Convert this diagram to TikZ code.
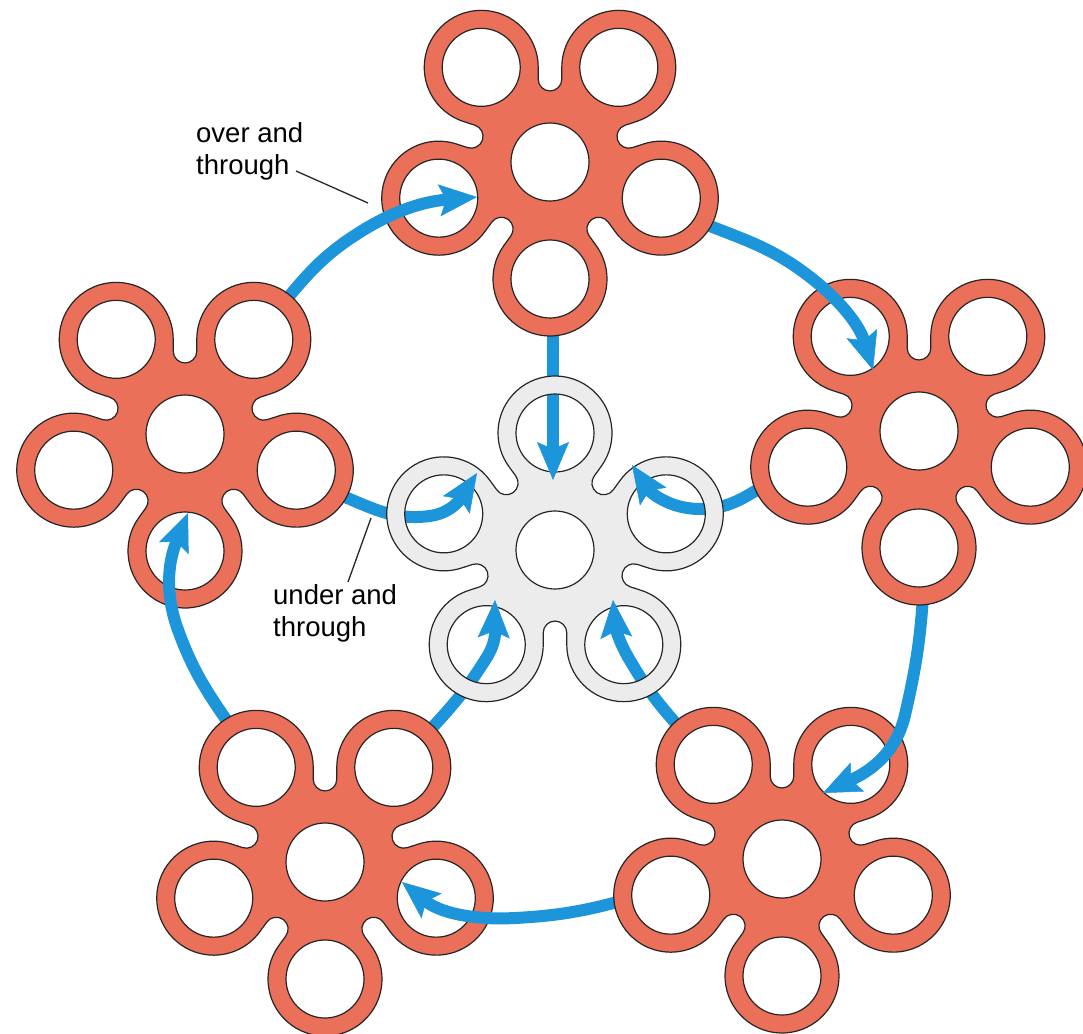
\documentclass[tikz,border=0pt]{standalone}
\usepackage{fontspec}
\setmainfont{Liberation Sans}
\usetikzlibrary{arrows.meta,calc}
\definecolor{petalred}{RGB}{234,112,90}
\definecolor{hubgray}{RGB}{236,236,236}
\definecolor{flowblue}{RGB}{28,149,218}

\tikzset{
  pics/flower/.style 2 args={code={
    \filldraw[fill=#2, draw=black!85, line width=1.2pt, even odd rule]
      ($({#1}:117)+({#1-126}:57)$)
      \foreach \k in {0,...,4}{
        arc[start angle={#1+72*\k-126}, delta angle=252, radius=57]
        -- ++({#1+72*\k+216}:11.85)
        arc[start angle={#1+72*\k-54}, delta angle=-180, radius=11.77]
        -- ++({#1+72*\k+36}:11.85)
      } -- cycle
      (0,0) circle[radius=39]
      \foreach \k in {0,...,4}{ ({#1+72*\k}:117) circle[radius=39] };
  }}
}

\begin{document}
\begin{tikzpicture}[x=1pt, y=1pt,
    flow/.style={draw=flowblue, line width=12pt, shorten >=-1pt},
    flowhead/.style={draw=flowblue, line width=12pt, -{Stealth[length=38pt, width=32pt, inset=7pt, line width=0.5pt]}},
    leader/.style={draw=black!85, line width=1.3pt},
    tagtext/.style={font=\fontsize{27.5}{32}\selectfont, align=left, inner sep=0pt, anchor=north west}
  ]
  \useasboundingbox (0,0) rectangle (1083,-1033);
  \fill[white] (0,0) rectangle (1083,-1033);

  % flower centres
  \coordinate (ftop)  at (550,-162);
  \coordinate (fright) at (919,-431);
  \coordinate (fbotr) at (782,-859);
  \coordinate (fbotl) at (325,-862);
  \coordinate (fleft) at (185,-434);
  \coordinate (fmid)  at (555,-550);

  % arrow ends and joints
  \coordinate (a1s) at (282,-305); \coordinate (a1j) at (365,-229); \coordinate (a1e) at (477,-197);
  \coordinate (a2s) at (700,-222); \coordinate (a2j) at (810,-277); \coordinate (a2e) at (873,-370);
  \coordinate (a3s) at (923,-597); \coordinate (a3j) at (905,-715); \coordinate (a3e) at (823,-793);
  \coordinate (a4s) at (625,-900); \coordinate (a4j) at (515,-918); \coordinate (a4e) at (402,-882);
  \coordinate (a5s) at (232,-728); \coordinate (a5j) at (178,-630); \coordinate (a5e) at (188,-513);
  \coordinate (c1s) at (553,-322); \coordinate (c1j) at (553,-435); \coordinate (c1e) at (553,-480);
  \coordinate (c2s) at (760,-488); \coordinate (c2j) at (700,-509); \coordinate (c2e) at (632,-465);
  \coordinate (c3s) at (680,-728); \coordinate (c3j) at (628,-657); \coordinate (c3e) at (613,-600);
  \coordinate (c4s) at (430,-730); \coordinate (c4j) at (487,-657); \coordinate (c4e) at (495,-600);
  \coordinate (c5s) at (340,-495); \coordinate (c5j) at (430,-516); \coordinate (c5e) at (477,-473);

  % tails, under the rings
  \draw[flow] (a1s) to[out=51, in=211] (a1j);
  \draw[flow] (a2s) to[out=-22, in=142] (a2j);
  \draw[flow] (a3s) to[out=266, in=77] (a3j);
  \draw[flow] (a4s) to[out=195, in=3] (a4j);
  \draw[flow] (a5s) to[out=125, in=290] (a5j);
  \draw[flow] (c1s) -- (c1j);
  \draw[flow] (c2s) to[out=212, in=0] (c2j);
  \draw[flow] (c3s) to[out=132, in=300] (c3j);
  \draw[flow] (c4s) to[out=47, in=238] (c4j);
  \draw[flow] (c5s) to[out=-22, in=188] (c5j);

  % flowers
  \pic at (ftop)   {flower={-90}{petalred}};
  \pic at (fright) {flower={-90}{petalred}};
  \pic at (fbotr)  {flower={-90}{petalred}};
  \pic at (fbotl)  {flower={-90}{petalred}};
  \pic at (fleft)  {flower={-90}{petalred}};
  \pic at (fmid)   {flower={90}{hubgray}};

  % heads, over the rings
  \draw[flowhead] (a1j) to[out=31, in=185] (a1e);
  \draw[flowhead] (a2j) to[out=-38, in=107] (a2e);
  \draw[flowhead] (a3j) to[out=257, in=25] (a3e);
  \draw[flowhead] (a4j) to[out=183, in=321] (a4e);
  \draw[flowhead] (a5j) to[out=110, in=248] (a5e);
  \draw[flowhead] (c1j) -- (c1e);
  \draw[flowhead] (c2j) to[out=180, in=304] (c2e);
  \draw[flowhead] (c3j) to[out=120, in=275] (c3e);
  \draw[flowhead] (c4j) to[out=58, in=268] (c4e);
  \draw[flowhead] (c5j) to[out=8, in=237] (c5e);

  % labels
  \node[tagtext] (overlbl) at (196,-122) {over and\\through};
  \node[tagtext] (underlbl) at (273,-584) {under and\\through};
  \coordinate (ov1) at (296,-171); \coordinate (ov2) at (368,-203);
  \coordinate (un1) at (348,-582); \coordinate (un2) at (371,-518);
  \draw[leader] (ov1) -- (ov2);
  \draw[leader] (un1) -- (un2);
\end{tikzpicture}
\end{document}
